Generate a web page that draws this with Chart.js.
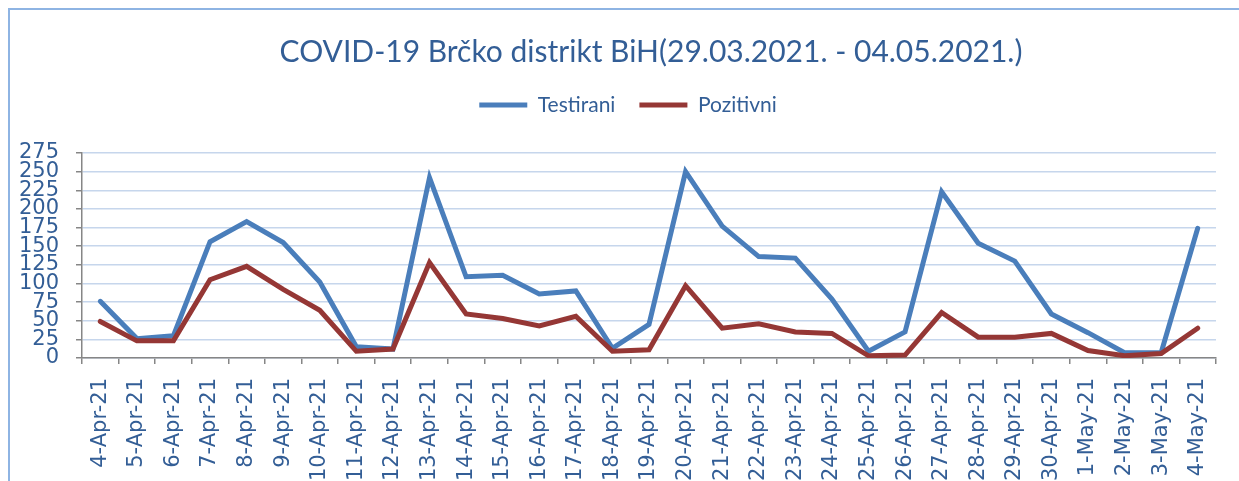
<!DOCTYPE html>
<html>
<head>
<meta charset="utf-8">
<script src="https://cdn.jsdelivr.net/npm/chart.js@4"></script>
<style>
  html, body { margin: 0; padding: 0; background: #fff; }
  #wrap  { position: relative; width: 1239px; height: 481px; overflow: hidden; }
  #frame { position: absolute; left: 8px; top: 8px; width: 1400px; height: 700px; border: 2px solid #8EB4E3; }
  canvas { position: absolute; left: 0; top: 0; }
</style>
</head>
<body>
<div id="wrap">
  <div id="frame"></div>
  <canvas id="chart-covid" width="1239" height="481"></canvas>
</div>
<script>
/* ── data ── */
const DAYS = [
  '4-Apr-21', '5-Apr-21', '6-Apr-21', '7-Apr-21', '8-Apr-21', '9-Apr-21', '10-Apr-21',
  '11-Apr-21', '12-Apr-21', '13-Apr-21', '14-Apr-21', '15-Apr-21', '16-Apr-21', '17-Apr-21',
  '18-Apr-21', '19-Apr-21', '20-Apr-21', '21-Apr-21', '22-Apr-21', '23-Apr-21', '24-Apr-21',
  '25-Apr-21', '26-Apr-21', '27-Apr-21', '28-Apr-21', '29-Apr-21', '30-Apr-21',
  '1-May-21', '2-May-21', '3-May-21', '4-May-21'
];
const TESTIRANI = [76, 26, 30, 156, 183, 155, 102, 15, 12, 242, 109, 111, 86, 90, 13, 45, 250, 177, 136, 134, 79, 9, 35, 223, 154, 130, 59, 34, 7, 7, 174];
const POZITIVNI = [49, 23, 23, 105, 123, 92, 64, 9, 12, 128, 59, 53, 43, 56, 9, 11, 97, 40, 46, 35, 33, 3, 4, 61, 28, 28, 33, 10, 3, 6, 40];
const Y_MAX  = 275;
const Y_STEP = 25;

const TITLE = 'COVID-19 Brčko distrikt BiH(29.03.2021. - 04.05.2021.)';
const TXT   = '#335E96';
const AXIS  = '#868686';

// legend block gets a fixed height so the plot starts where the reference does
const legendHeight = {
  id: 'legendHeight',
  beforeInit(chart) {
    const fit = chart.legend.fit;
    chart.legend.fit = function () {
      fit.call(this);
      this.height = 82.4;
    };
  },
  // title sits over the plot area, legend a bit right of the canvas centre
  afterLayout(chart) {
    chart.titleBlock.left += 43; chart.titleBlock.right += 43;
    chart.legend.left += 20;     chart.legend.right += 20;
  }
};

new Chart(document.getElementById('chart-covid'), {
  type: 'line',
  data: {
    labels: DAYS,
    datasets: [
      { label: 'Testirani', data: TESTIRANI, borderColor: '#4A7EBB', backgroundColor: '#4A7EBB',
        borderWidth: 5, pointRadius: 0, tension: 0, borderCapStyle: 'round', order: 2 },
      { label: 'Pozitivni', data: POZITIVNI, borderColor: '#953735', backgroundColor: '#953735',
        borderWidth: 5, pointRadius: 0, tension: 0, borderCapStyle: 'round', order: 1 }
    ]
  },
  options: {
    responsive: false,
    devicePixelRatio: 1,
    animation: false,
    layout: { padding: { left: 0, right: 23, top: 0, bottom: 0 } },
    plugins: {
      title: {
        display: true, text: TITLE, color: TXT,
        font: { family: 'Lato, sans-serif', size: 30, weight: 'normal' },
        padding: { top: 34, bottom: 0.6 }
      },
      legend: {
        display: true, position: 'top',
        labels: {
          color: TXT, usePointStyle: true, pointStyle: 'line', pointStyleWidth: 48,
          padding: 24, font: { family: 'Lato, sans-serif', size: 21 },
          sort: (a, b) => a.datasetIndex - b.datasetIndex
        }
      },
      tooltip: { enabled: false }
    },
    scales: {
      x: {
        offset: true,
        grid: { offset: true, drawOnChartArea: false, drawTicks: true, tickLength: 6, color: AXIS, lineWidth: 1.5 },
        border: { color: AXIS, width: 1.5 },
        ticks: {
          autoSkip: false, maxRotation: 90, minRotation: 90, padding: 14, color: TXT,
          font: { family: '"DejaVu Sans", sans-serif', size: 21 }
        },
        afterFit: s => { s.height = 123; }
      },
      y: {
        min: 0, max: Y_MAX,
        grid: { color: '#C6D6EC', lineWidth: 1.5, tickColor: AXIS, tickLength: 6 },
        border: { color: AXIS, width: 1.5 },
        ticks: {
          stepSize: Y_STEP, autoSkip: false, padding: 17, color: TXT,
          font: { family: '"DejaVu Sans", sans-serif', size: 21 }
        },
        afterFit: s => { s.width = 82; }
      }
    }
  },
  plugins: [legendHeight]
});
</script>
</body>
</html>
